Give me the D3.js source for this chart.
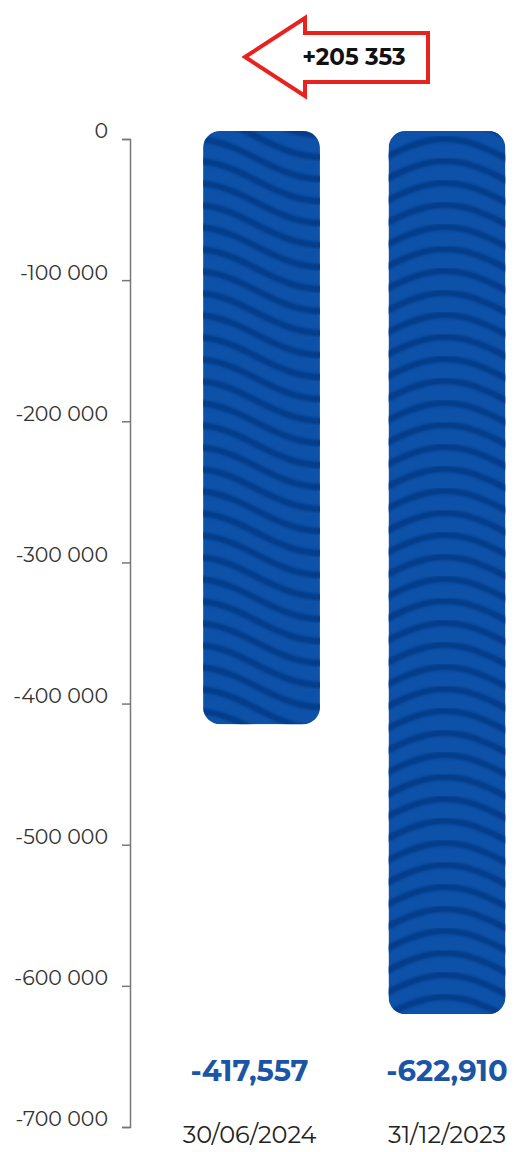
<!DOCTYPE html>
<html>
<head>
<meta charset="utf-8">
<script src="https://cdn.jsdelivr.net/npm/d3@7"></script>
<style>
  body { margin: 0; background: #fff; }
  text { font-family: "Montserrat", "Noto Sans", sans-serif; }
</style>
</head>
<body>
<div id="chart"></div>
<script>
// data
const categories = ["30/06/2024", "31/12/2023"];
const values = [-417557, -622910];
const tickValues = [0, -100000, -200000, -300000, -400000, -500000, -600000, -700000];

const width = 514, height = 1152;

const svg = d3.select("#chart").append("svg")
    .attr("width", width)
    .attr("height", height);

// scales
const y = d3.scaleLinear()
    .domain([0, -700000])
    .range([139, 1127]);

const x = d3.scaleBand()
    .domain(categories)
    .range([166, 542.5])
    .paddingInner(0.37)
    .paddingOuter(0.2);

const defs = svg.append("defs");
const blur = defs.append("filter").attr("id", "soft");
blur.append("feGaussianBlur").attr("stdDeviation", 1.3);

// axis
const locale = d3.formatLocale({decimal: ".", thousands: " ", grouping: [3], currency: ["", ""], minus: "-"});
const axis = d3.axisLeft(y)
    .tickValues(tickValues)
    .tickSize(8)
    .tickPadding(14)
    .tickFormat(locale.format(","));

const gAxis = svg.append("g")
    .attr("transform", "translate(130,0)")
    .call(axis);
gAxis.select(".domain").attr("stroke", "#777").attr("stroke-width", 1.5);
gAxis.selectAll(".tick line").attr("stroke", "#777").attr("stroke-width", 1.5);
gAxis.selectAll(".tick text")
    .attr("fill", "#333")
    .style("font-size", "20.5px")
    .style("font-family", "Montserrat, 'Noto Sans', sans-serif")
    .attr("dy", "-0.05em");

// bars with wavy stripes, clipped to a rounded rect
const spacing = 22, amp = 20, waveLen = 250, peakX = 195;
const wave = d3.line().curve(d3.curveBasis);

values.forEach(function(v, i) {
    let bx = x(categories[i]), bw = x.bandwidth();
    let top = y(0) - 8, h = y(v) - y(0) + 4;

    defs.append("clipPath").attr("id", "clip" + i)
      .append("rect")
        .attr("x", bx).attr("y", top)
        .attr("width", bw).attr("height", h)
        .attr("rx", 17);

    let g = svg.append("g").attr("clip-path", "url(#clip" + i + ")");
    g.append("rect")
        .attr("x", bx).attr("y", top)
        .attr("width", bw).attr("height", h)
        .attr("fill", "#0d51a8");

    for (let sy = top - 60; sy < top + h + 60; sy += spacing) {
        let pts = [];
        for (let px = bx - 10; px <= bx + bw + 10; px += 5) {
            pts.push([px, sy - amp * Math.cos((px - peakX) / waveLen * 2 * Math.PI)]);
        }
        g.append("path")
            .attr("d", wave(pts))
            .attr("fill", "none")
            .attr("stroke", "#043a85")
            .attr("stroke-width", 6.5)
            .attr("stroke-opacity", 0.8)
            .attr("filter", "url(#soft)");
    }
});

// label centre: the first one sits a bit left of its bar
const labelX = (d, i) => x(categories[i]) + x.bandwidth() / 2 - (i === 0 ? 12 : 0);

// value labels
const valFmt = d3.formatLocale({decimal: ".", thousands: ",", grouping: [3], currency: ["", ""], minus: "-"}).format(",");
svg.selectAll(".val")
    .data(values)
    .enter().append("text")
    .attr("x", labelX)
    .attr("y", 1081)
    .attr("text-anchor", "middle")
    .attr("fill", "#1c55a5")
    .style("font-size", "29px")
    .style("font-weight", "bold")
    .text(d => valFmt(d));

// category labels
svg.selectAll(".cat")
    .data(categories)
    .enter().append("text")
    .attr("x", labelX)
    .attr("y", 1143)
    .attr("text-anchor", "middle")
    .attr("fill", "#222")
    .style("font-size", "24px")
    .text(d => d);

// difference arrow
const diff = values[0] - values[1];
const arrow = [[245, 57], [305, 18], [305, 33], [428, 33], [428, 82], [305, 82], [305, 96]];
svg.append("path")
    .attr("d", d3.line()(arrow) + "Z")
    .attr("fill", "#fff")
    .attr("stroke", "#e8231f")
    .attr("stroke-width", 4)
    .attr("stroke-linejoin", "miter");
svg.append("text")
    .attr("x", 354)
    .attr("y", 65)
    .attr("text-anchor", "middle")
    .attr("fill", "#111")
    .style("font-size", "23px")
    .style("font-weight", "bold")
    .text("+" + locale.format(",")(diff));
</script>
</body>
</html>
